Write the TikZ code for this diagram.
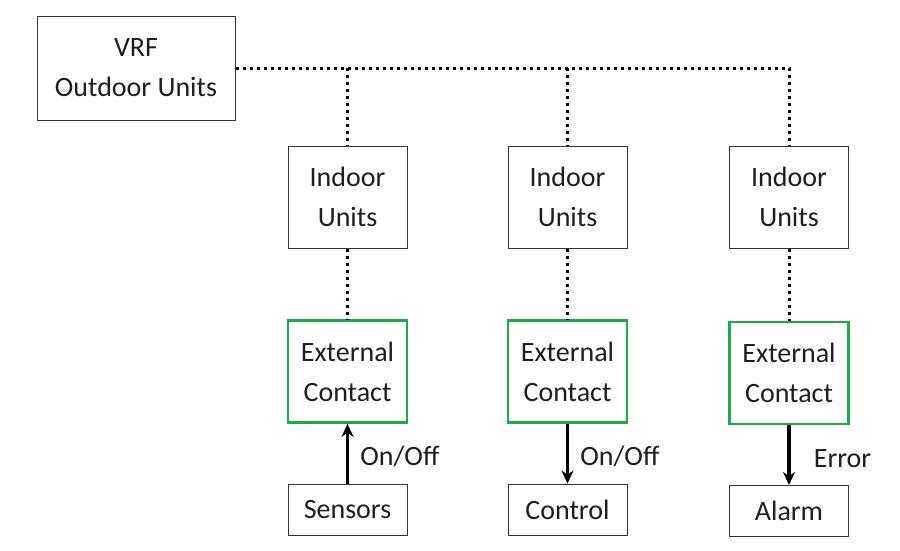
\documentclass[tikz,border=0pt]{standalone}
\usepackage{fontspec}
\setmainfont{Carlito}
\usepackage{xcolor}
\usetikzlibrary{positioning,arrows.meta}
\definecolor{contactgreen}{RGB}{30,170,72}
\definecolor{inktext}{RGB}{30,30,30}

\begin{document}
\begin{tikzpicture}[
 x=1pt, y=1pt,
 font=\fontsize{28}{40}\selectfont,
 box/.style={rectangle, draw=black!80, line width=1pt, text=inktext, align=center, inner sep=0pt},
 unitbox/.style={box, minimum width=119pt, minimum height=102pt},
 contact/.style={unitbox, draw=contactgreen, line width=2.8pt},
 endbox/.style={box, minimum width=119pt, minimum height=51pt},
 bus/.style={line width=3pt, dash pattern=on 3pt off 4pt},
 arrow/.style={-{Stealth[length=13pt,width=12pt]}, line width=3.2pt}
 ]
 \useasboundingbox (0,0) rectangle (900,-550);
 % Nodes
 \node[box, minimum width=198pt, minimum height=104pt] (outdoor) at (136,-68) {VRF\\Outdoor Units};
 \node[unitbox] (indoor1) at (347.5,-197) {Indoor\\Units};
 \node[unitbox] (indoor2) at (567.5,-197) {Indoor\\Units};
 \node[unitbox] (indoor3) at (789,-197) {Indoor\\Units};
 \node[contact] (ext1) at (347.5,-371.5) {External\\Contact};
 \node[contact] (ext2) at (567.5,-371.5) {External\\Contact};
 \node[contact] (ext3) at (789,-373) {External\\Contact};
 \node[endbox] (sensors) at (347.5,-509.5) {Sensors};
 \node[endbox] (control) at (567.5,-509.5) {Control};
 \node[endbox] (alarm) at (789,-511) {Alarm};
 % Dotted wiring
 \draw[bus] (outdoor.east) -- (outdoor.east -| indoor3.north) -- (indoor3.north);
 \draw[bus] (outdoor.east -| indoor1.north) -- (indoor1.north);
 \draw[bus] (outdoor.east -| indoor2.north) -- (indoor2.north);
 \draw[bus] (indoor1) -- (ext1);
 \draw[bus] (indoor2) -- (ext2);
 \draw[bus] (indoor3) -- (ext3);
 % Arrows
 \draw[arrow] (sensors) -- node[right=8pt, yshift=-3pt, text=inktext] {On/Off} (ext1);
 \draw[arrow] (ext2) -- node[right=8pt, yshift=-3pt, text=inktext] {On/Off} (control);
 \draw[arrow] (ext3) -- node[right=20pt, yshift=-3pt, text=inktext] {Error} (alarm);
\end{tikzpicture}
\end{document}
